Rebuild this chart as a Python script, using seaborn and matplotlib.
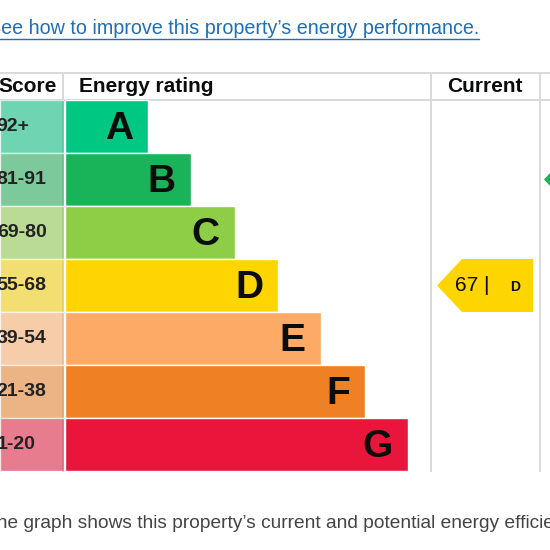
import matplotlib
matplotlib.use("Agg")
import matplotlib.pyplot as plt
import seaborn as sns
from matplotlib.patches import Polygon

# data
ratings = ["A", "B", "C", "D", "E", "F", "G"]
score_bands = ["92+", "81-91", "69-80", "55-68", "39-54", "21-38", "1-20"]
bar_share = [0.228, 0.345, 0.465, 0.583, 0.70, 0.82, 0.938]
band_colors = ["#00c781", "#19b459", "#8dce46", "#ffd500", "#fcaa65", "#ef8023", "#e9153b"]
current_score, current_rating = 67, "D"
potential_score, potential_rating = 84, "B"

link_text = "See how to improve this property\u2019s energy performance."
caption = "The graph shows this property\u2019s current and potential energy efficiency."

sns.set_style("white")
plt.rcParams["font.family"] = ["Liberation Sans", "DejaVu Sans"]

W = H = 550
fig = plt.figure(figsize=(5.5, 5.5), dpi=100)


def px_axes(x0, y0, x1, y1):
    ax = fig.add_axes([x0 / W, 1 - y1 / H, (x1 - x0) / W, (y1 - y0) / H])
    ax.set_axis_off()
    return ax


# background axes in pixel units for table lines and loose text
bg = px_axes(0, 0, W, H)
bg.set_xlim(0, W)
bg.set_ylim(H, 0)
line_col = "#d9d9d9"
bg.hlines([73, 100], 0, W, color=line_col, lw=1.4)
bg.vlines([63, 431, 540], 73, 472, color=line_col, lw=1.4)

bg.text(-2, 87, "Score", fontsize=15, fontweight="bold", va="center", color="#0b0c0c")
bg.text(79, 87, "Energy rating", fontsize=15, fontweight="bold", va="center", color="#0b0c0c")
bg.text(485, 87, "Current", fontsize=15, fontweight="bold", va="center", ha="center", color="#0b0c0c")

link = bg.text(-12, 28, link_text, fontsize=14.2, va="center", color="#1d70b8")
bg.text(-15, 523, caption, fontsize=13.8, va="center", color="#444444")

fig.canvas.draw()
bb = link.get_window_extent().transformed(bg.transData.inverted())
bg.plot([bb.x0, bb.x1], [bb.y0 + 1, bb.y0 + 1], color="#1d70b8", lw=1)

# score column
ax_s = px_axes(0, 100, 64, 471)
sns.barplot(x=[1] * len(ratings), y=ratings, hue=ratings, palette=band_colors, saturation=0.85,
            width=0.985, orient="h", alpha=0.6, legend=False, ax=ax_s)
ax_s.set_xlim(0, 1)
ax_s.set_ylim(len(ratings) - 0.5, -0.5)
ax_s.set_axis_off()
for i, band in enumerate(score_bands):
    ax_s.text(-0.05, i, band, fontsize=14, fontweight="bold", va="center", ha="left",
              color="#222222", transform=ax_s.get_yaxis_transform())

# rating bars
ax_r = px_axes(65, 100, 431, 471)
sns.barplot(x=bar_share, y=ratings, hue=ratings, palette=band_colors, saturation=1,
            width=0.985, orient="h", legend=False, ax=ax_r)
ax_r.set_xlim(0, 1)
ax_r.set_ylim(len(ratings) - 0.5, -0.5)
ax_r.set_axis_off()
for i, (r, v) in enumerate(zip(ratings, bar_share)):
    ax_r.text(v - 0.042, i + 0.04, r, fontsize=28, fontweight="bold", va="center", ha="right",
              color="#0b0c0c")


def pointer(ax, score, rating, tip, body, right):
    i = ratings.index(rating)
    c = band_colors[i]
    h = 0.5
    ax.add_patch(Polygon([(tip, i), (body, i - h), (right, i - h), (right, i + h), (body, i + h)],
                         closed=True, facecolor=c, edgecolor="none"))
    ax.text(body - 7, i, f"{score} |", fontsize=15, va="center", ha="left", color="#0b0c0c")
    ax.text(right - 23, i + 0.03, rating, fontsize=10, fontweight="bold", va="center", ha="left",
            color="#0b0c0c")


ax_c = px_axes(431, 100, 540, 471)
ax_c.set_xlim(0, 109)
ax_c.set_ylim(len(ratings) - 0.5, -0.5)
pointer(ax_c, current_score, current_rating, 6, 31, 102)

ax_p = px_axes(540, 100, 649, 471)
ax_p.set_xlim(0, 109)
ax_p.set_ylim(len(ratings) - 0.5, -0.5)
pointer(ax_p, potential_score, potential_rating, 4, 29, 100)

fig.savefig("out.png", dpi=100)
